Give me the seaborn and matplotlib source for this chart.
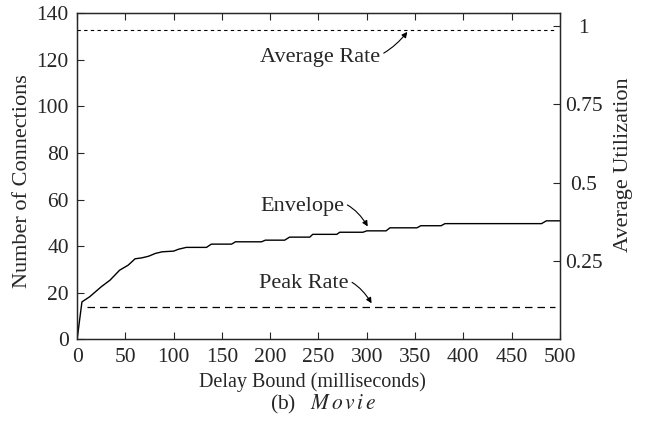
import seaborn as sns
import matplotlib.pyplot as plt
import pandas as pd

# envelope curve (delay bound ms, connections)
delay_ms = [0, 5, 13, 25, 34, 44, 53, 60, 67, 74, 81, 88, 100, 105, 113, 134, 139,
            160, 164, 191, 195, 215, 220, 241, 244, 269, 272, 296, 300, 320, 324,
            352, 356, 377, 381, 481, 486, 500]
envelope_conn = [0, 16.1, 18.3, 22.6, 25.4, 29.7, 31.9, 34.6, 35.0, 35.7, 36.9, 37.6,
                 37.9, 38.7, 39.5, 39.5, 40.9, 40.9, 41.9, 41.9, 42.6, 42.6, 43.9, 43.9,
                 45.1, 45.1, 46.0, 46.0, 46.6, 46.6, 47.9, 47.9, 48.8, 48.8, 49.7, 49.7,
                 50.9, 50.9]

peak_rate_conn = 14
avg_rate_conn = 133
avg_rate_span = [0, 495]
peak_rate_span = [10, 495]
util_ticks = [0.25, 0.5, 0.75, 1]
util_labels = ["0.25", "0.5", "0.75", "1"]
util_at_one = 134.6  # connections level that maps to utilization 1

sns.set_style("ticks")
plt.rcParams['font.family'] = ['Liberation Serif', 'DejaVu Serif']
plt.rcParams['mathtext.fontset'] = 'stix'
plt.rcParams['xtick.direction'] = 'in'
plt.rcParams['ytick.direction'] = 'in'

env = pd.DataFrame({'delay': delay_ms, 'conn': envelope_conn})

fig = plt.figure(figsize=(6.48, 4.28), dpi=100)
ax = fig.add_axes([0.119, 0.207, 0.745, 0.762])

sns.lineplot(data=env, x='delay', y='conn', ax=ax, color='black', lw=1.0,
             estimator=None, sort=False)
sns.lineplot(x=peak_rate_span, y=[peak_rate_conn] * 2, ax=ax, color='black',
             lw=0.9, linestyle=(0, (6, 4)))
sns.lineplot(x=avg_rate_span, y=[avg_rate_conn] * 2, ax=ax, color='black',
             lw=0.8, linestyle=(0, (3, 3)))

ax.set_xlim(0, 500)
ax.set_ylim(0, 140)
ax.set_xticks(range(0, 501, 50))
ax.set_yticks(range(0, 141, 20))
ax.tick_params(axis='x', top=True, labelsize=15.5, length=5, width=0.8, pad=6.5)
ax.tick_params(axis='y', labelsize=15.5, length=5, width=0.8, pad=6)
for s in ax.spines.values():
    s.set_linewidth(1.0)
    s.set_visible(True)
ax.set_xlabel('Delay Bound (milliseconds)', fontsize=14.5)
ax.xaxis.set_label_coords(0.488, -0.1)
ax.set_ylabel('Number of Connections', fontsize=16)
ax.yaxis.set_label_coords(-0.093, 0.486)

ax2 = ax.twinx()
ax2.set_ylim(0, 140 / util_at_one)
ax2.set_yticks(util_ticks)
ax2.set_yticklabels(util_labels, ha='center')
ax2.tick_params(axis='y', labelsize=15.5, length=5, width=0.8, pad=17, direction='in')
ax2.set_ylabel('Average Utilization', fontsize=16)
ax2.yaxis.set_label_coords(1.112, 0.535)

arrow = dict(arrowstyle='-|>', color='black', lw=0.8, mutation_scale=8,
             shrinkA=0, shrinkB=0)
ax.annotate('Average Rate', xy=(342, 132), xytext=(252, 121), fontsize=16,
            ha='center', va='center',
            arrowprops=dict(arrow, connectionstyle='arc3,rad=0.35'))
ax.annotate('Envelope', xy=(301, 48.5), xytext=(233, 57.2), fontsize=16,
            ha='center', va='center',
            arrowprops=dict(arrow, connectionstyle='arc3,rad=-0.45'))
ax.annotate('Peak Rate', xy=(305, 15.5), xytext=(235, 24.2), fontsize=16,
            ha='center', va='center',
            arrowprops=dict(arrow, connectionstyle='arc3,rad=-0.45'))

fig.text(0.498, 0.056, r'(b)$\quad M\,o\,v\,i\,e$', ha='center', va='center',
         fontsize=15.5)

fig.savefig('out.png', dpi=100)
